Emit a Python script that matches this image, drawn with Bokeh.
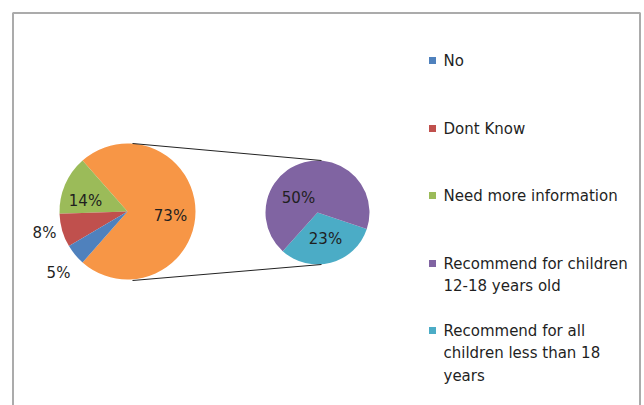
import numpy as np
from bokeh.plotting import figure
from bokeh.models import ColumnDataSource
from bokeh.core.properties import value
from bokeh.embed import file_html
from bokeh.resources import INLINE

# ---- data ----
main_labels = ["Other", "Need more information", "Dont Know", "No"]
main_values = [73, 14, 8, 5]
sub_labels = ["Recommend for all children less than 18 years", "Recommend for children 12-18 years old"]
sub_values = [23, 50]

legend_labels = ["No", "Dont Know", "Need more information",
                 "Recommend for children 12-18 years old",
                 "Recommend for all children less than 18 years"]
legend_lines = [["No"], ["Dont Know"], ["Need more information"],
                ["Recommend for children", "12-18 years old"],
                ["Recommend for all", "children less than 18", "years"]]

# ---- style ----
C = {"No": "#4F81BD", "Dont Know": "#C0504D", "Need more information": "#9BBB59",
     "Other": "#F79646",
     "Recommend for children 12-18 years old": "#8064A2",
     "Recommend for all children less than 18 years": "#4BACC6"}
W, H = 644, 405
FONT = "DejaVu Sans"
TXT = "#1f1f1f"
main_c = (127, 194); main_r = 68
sub_c = (317, 193); sub_r = 52
main_lab_off = [(43, -4), (-42, 11), (-83, -21), (-69, -61)]
sub_lab_off = [(8, -26), (-19, 15)]
sub_start_deg = -132.0

p = figure(width=W, height=H, x_range=(0, W), y_range=(0, H),
           output_backend="svg", toolbar_location=None, min_border=0)
p.axis.visible = False
p.grid.visible = False
p.outline_line_color = None
p.background_fill_color = "white"
p.border_fill_color = "white"

# frame (chart area border, bottom is off-screen)
p.line([12.5, 12.5, 639.5, 639.5], [-10, 392.5, 392.5, -10], line_color="#ababab", line_width=2)

# main pie
tot = sum(main_values)
fr = np.array(main_values) / tot * 2 * np.pi
start0 = -fr[0] / 2
ends = start0 + np.cumsum(fr)
starts = ends - fr
src = ColumnDataSource(dict(x=[main_c[0]] * 4, y=[main_c[1]] * 4, s=starts, e=ends,
                            c=[C[l] for l in main_labels]))
p.wedge(x="x", y="y", radius=main_r, radius_units="screen", start_angle="s", end_angle="e",
        fill_color="c", line_color=None, source=src)

# sub pie
stot = sum(sub_values)
sfr = np.array(sub_values) / stot * 2 * np.pi
s0 = np.deg2rad(sub_start_deg)
sends = s0 + np.cumsum(sfr)
sstarts = sends - sfr
ssrc = ColumnDataSource(dict(x=[sub_c[0]] * 2, y=[sub_c[1]] * 2, s=sstarts, e=sends,
                             c=[C[l] for l in sub_labels]))
p.wedge(x="x", y="y", radius=sub_r, radius_units="screen", start_angle="s", end_angle="e",
        fill_color="c", line_color=None, source=ssrc)

# connector lines
p.line([main_c[0] + 5, sub_c[0] + 4], [main_c[1] + main_r, sub_c[1] + sub_r], line_color="#222222", line_width=1)
p.line([main_c[0] + 5, sub_c[0] + 4], [main_c[1] - main_r - 1, sub_c[1] - sub_r], line_color="#222222", line_width=1)

# data labels
lab_x = [main_c[0] + d[0] for d in main_lab_off] + [sub_c[0] + d[0] for d in sub_lab_off]
lab_y = [main_c[1] + d[1] for d in main_lab_off] + [sub_c[1] + d[1] for d in sub_lab_off]
lab_t = [f"{v}%" for v in main_values] + [f"{v}%" for v in sub_values]
p.text(x=lab_x, y=lab_y, text=lab_t, text_font=value(FONT), text_font_size="15px",
       text_color=TXT, text_align="center", text_baseline="middle")

# legend
leg_y = [345, 277, 210, 142, 75]
line_h = 22.5
sq_x, tx_x = 432, 443
for lab, lines, y in zip(legend_labels, legend_lines, leg_y):
    p.rect(x=[sq_x], y=[y], width=7, height=7, width_units="screen", height_units="screen",
           fill_color=C[lab], line_color=None)
    ys = [y - i * line_h for i in range(len(lines))]
    p.text(x=[tx_x] * len(lines), y=ys, text=lines, text_font=value(FONT), text_font_size="15px",
           text_color=TXT, text_align="left", text_baseline="middle")

open("out.html", "w").write(file_html(p, INLINE))
